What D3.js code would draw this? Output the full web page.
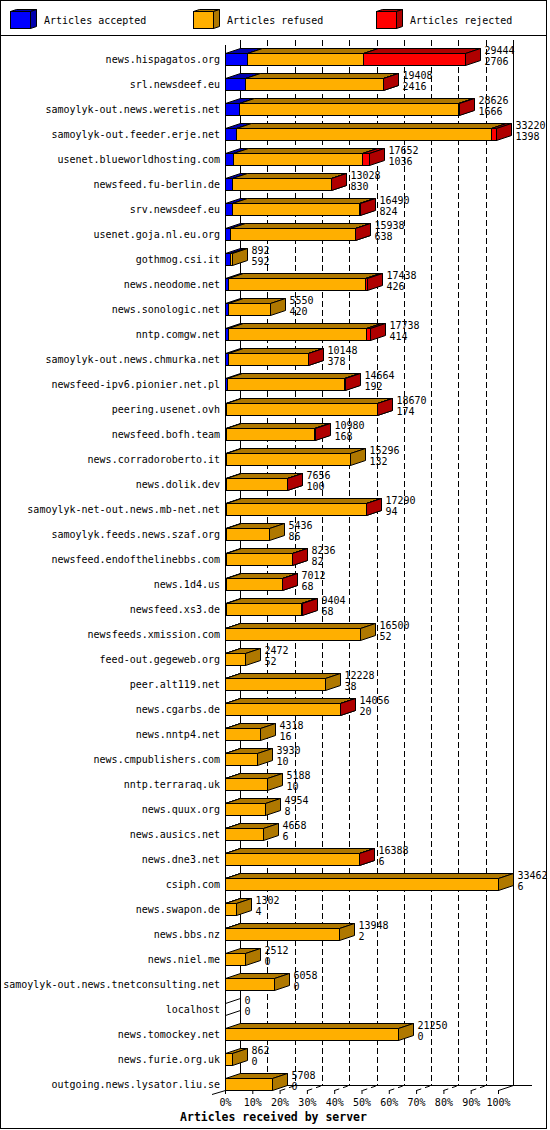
<!DOCTYPE html>
<html>
<head>
<meta charset="utf-8">
<script src="https://cdn.jsdelivr.net/npm/d3@7"></script>
<style>
  body { margin: 0; background: #fff; }
  text { font-family: "DejaVu Sans Mono", monospace; font-size: 10px; fill: #000; }
</style>
</head>
<body>
<script>
// servers, sorted by accepted articles
var servers = ["news.hispagatos.org", "srl.newsdeef.eu", "samoylyk-out.news.weretis.net",
  "samoylyk-out.feeder.erje.net", "usenet.blueworldhosting.com", "newsfeed.fu-berlin.de",
  "srv.newsdeef.eu", "usenet.goja.nl.eu.org", "gothmog.csi.it", "news.neodome.net",
  "news.sonologic.net", "nntp.comgw.net", "samoylyk-out.news.chmurka.net",
  "newsfeed-ipv6.pionier.net.pl", "peering.usenet.ovh", "newsfeed.bofh.team",
  "news.corradoroberto.it", "news.dolik.dev", "samoylyk-net-out.news.mb-net.net",
  "samoylyk.feeds.news.szaf.org", "newsfeed.endofthelinebbs.com", "news.1d4.us",
  "newsfeed.xs3.de", "newsfeeds.xmission.com", "feed-out.gegeweb.org", "peer.alt119.net",
  "news.cgarbs.de", "news.nntp4.net", "news.cmpublishers.com", "nntp.terraraq.uk",
  "news.quux.org", "news.ausics.net", "news.dne3.net", "csiph.com", "news.swapon.de",
  "news.bbs.nz", "news.niel.me", "samoylyk-out.news.tnetconsulting.net", "localhost",
  "news.tomockey.net", "news.furie.org.uk", "outgoing.news.lysator.liu.se"];

var accepted = [2706, 2416, 1666, 1398, 1036, 830, 824, 638, 592, 426,
  420, 414, 378, 192, 174, 168, 132, 100, 94, 86,
  82, 68, 68, 52, 52, 38, 20, 16, 10, 10,
  8, 6, 6, 6, 4, 2, 0, 0, 0, 0, 0, 0];

var refused = [14218, 16932, 26860, 31202, 15756, 12158, 15616, 15270, 300, 16712,
  5130, 16834, 9740, 14412, 18466, 10792, 15164, 7536, 17176, 5350,
  8134, 6924, 9306, 16448, 2420, 12190, 14016, 4302, 3920, 5178,
  4946, 4652, 16362, 33456, 1298, 13946, 2512, 6058, 0, 21250, 862, 5708];

var rejected = [12520, 60, 100, 620, 860, 40, 50, 30, 0, 300,
  0, 490, 30, 60, 30, 20, 0, 20, 20, 0,
  20, 20, 30, 0, 0, 0, 20, 0, 0, 0,
  0, 0, 20, 0, 0, 0, 0, 0, 0, 0, 0, 0];

var seriesNames = ["Articles accepted", "Articles refused", "Articles rejected"];
var frontColors = ["#0000ff", "#ffaf00", "#ff0000"];
var sideColors = ["#0000af", "#af7800", "#af0000"];
var pctTicks = [0, 10, 20, 30, 40, 50, 60, 70, 80, 90, 100];

var W = 550, H = 1130;
var DX = 15, DY = 5, BH = 12;

var totals = servers.map(function (s, i) { return accepted[i] + refused[i] + rejected[i]; });

var svg = d3.select("body").append("svg").attr("width", W).attr("height", H);

function r(v) { return Math.round(v) + 0.5; }

var x = d3.scaleLinear().domain([0, d3.max(totals)]).range([225, 498]);
var pct = d3.scaleLinear().domain([0, 100]).range([225, 498]);
var y = d3.scaleBand().domain(servers).range([46.8, 1096.8]);

// frame
svg.append("rect").attr("x", 0.5).attr("y", 0.5).attr("width", 546).attr("height", 1128)
  .attr("fill", "#fff").attr("stroke", "#000");
svg.append("line").attr("x1", 0).attr("x2", 547).attr("y1", 35.5).attr("y2", 35.5).attr("stroke", "#000");

// legend
var legend = svg.append("g");
seriesNames.forEach(function (name, i) {
  var lx = 10 + i * 183, ly = 11, lw = 20, lh = 17, dx = 6, dy = 2;
  var g = legend.append("g").attr("stroke", "#000").attr("stroke-width", 1);
  g.append("rect").attr("x", lx + 0.5).attr("y", ly + 0.5).attr("width", lw).attr("height", lh)
    .attr("fill", frontColors[i]);
  g.append("polygon").attr("fill", sideColors[i])
    .attr("points", [[lx + 0.5, ly + 0.5], [lx + lw + 0.5, ly + 0.5], [lx + lw + dx + 0.5, ly - dy + 0.5], [lx + dx + 0.5, ly - dy + 0.5]].join(" "));
  g.append("polygon").attr("fill", sideColors[i])
    .attr("points", [[lx + lw + 0.5, ly + 0.5], [lx + lw + dx + 0.5, ly - dy + 0.5], [lx + lw + dx + 0.5, ly + lh - dy + 0.5], [lx + lw + 0.5, ly + lh + 0.5]].join(" "));
  legend.append("text").attr("x", lx + 34).attr("y", 23.5).text(name);
});

// back wall grid
var grid = svg.append("g").attr("stroke", "#000");
pctTicks.forEach(function (t) {
  var gx = r(pct(t) + DX);
  grid.append("line").attr("x1", gx).attr("x2", gx).attr("y1", 40).attr("y2", 1085.5)
    .attr("stroke-dasharray", (t === 0 || t === 100) ? null : "6,3");
});
// front left axis
grid.append("line").attr("x1", 225.5).attr("x2", 225.5).attr("y1", 45).attr("y2", 1090.5);

// floor
var floor = svg.append("g").attr("stroke", "#000");
floor.append("line").attr("x1", 240).attr("x2", 532).attr("y1", 1085.5).attr("y2", 1085.5);
pctTicks.forEach(function (t) {
  floor.append("line").attr("x1", r(pct(t))).attr("y1", 1090.5)
    .attr("x2", r(pct(t)) + DX).attr("y2", 1090.5 - DY)
    .attr("stroke-dasharray", t === 100 ? null : "5,4");
});
floor.append("line").attr("x1", 212).attr("y1", 1094.5).attr("x2", 225.5).attr("y2", 1090.5);

var xAxis = svg.append("g").attr("transform", "translate(0,1090)")
  .call(d3.axisBottom(pct).tickValues(pctTicks).tickSize(4).tickFormat(function (d) { return d + "%"; }));
xAxis.select(".domain").remove();
xAxis.selectAll("line").attr("stroke", "#000");
xAxis.selectAll("text").attr("y", 9).attr("font-family", "DejaVu Sans Mono").attr("font-size", 10);

svg.append("text").attr("x", 273.5).attr("y", 1121)
  .attr("text-anchor", "middle").style("font-weight", "bold").style("font-size", "11.5px")
  .text("Articles received by server");

// bars
function box(g, x0, x1, top, ci) {
  var bot = top + BH;
  g.append("rect").attr("x", x0).attr("y", top).attr("width", Math.max(0, x1 - x0)).attr("height", BH)
    .attr("fill", ci < 0 ? "none" : frontColors[ci]);
  g.append("polygon").attr("fill", ci < 0 ? "none" : sideColors[ci])
    .attr("points", [[x0, top], [x1, top], [x1 + DX, top - DY], [x0 + DX, top - DY]].join(" "));
  g.append("polygon").attr("fill", ci < 0 ? "none" : sideColors[ci])
    .attr("points", [[x1, top], [x1 + DX, top - DY], [x1 + DX, bot - DY], [x1, bot]].join(" "));
}

var rows = svg.append("g");
servers.forEach(function (s, i) {
  var c = Math.round(y(s) + y.bandwidth() / 2);
  var top = c - 6 + 0.5;
  var g = rows.append("g").attr("stroke", "#000").attr("stroke-width", 1);
  var vals = [accepted[i], refused[i], rejected[i]];
  var acc = 0;
  if (totals[i] === 0) {
    g.append("line").attr("x1", r(x(0))).attr("y1", top).attr("x2", r(x(0)) + DX).attr("y2", top - DY);
    g.append("line").attr("x1", r(x(0))).attr("y1", top + BH).attr("x2", r(x(0)) + DX).attr("y2", top + BH - DY);
  }
  vals.forEach(function (v, k) {
    if (v <= 0) return;
    var x0 = r(x(acc)), x1 = r(x(acc + v));
    acc += v;
    box(g, x0, x1, top, k);
  });

  rows.append("text").attr("x", 220).attr("y", c + 3.5).attr("text-anchor", "end").text(s);
  var tx = r(x(totals[i])) + DX + 4;
  rows.append("text").attr("x", tx).attr("y", c - 9 + 3.5).text(totals[i]);
  rows.append("text").attr("x", tx).attr("y", c + 2 + 3.5).text(accepted[i]);
});
</script>
</body>
</html>
